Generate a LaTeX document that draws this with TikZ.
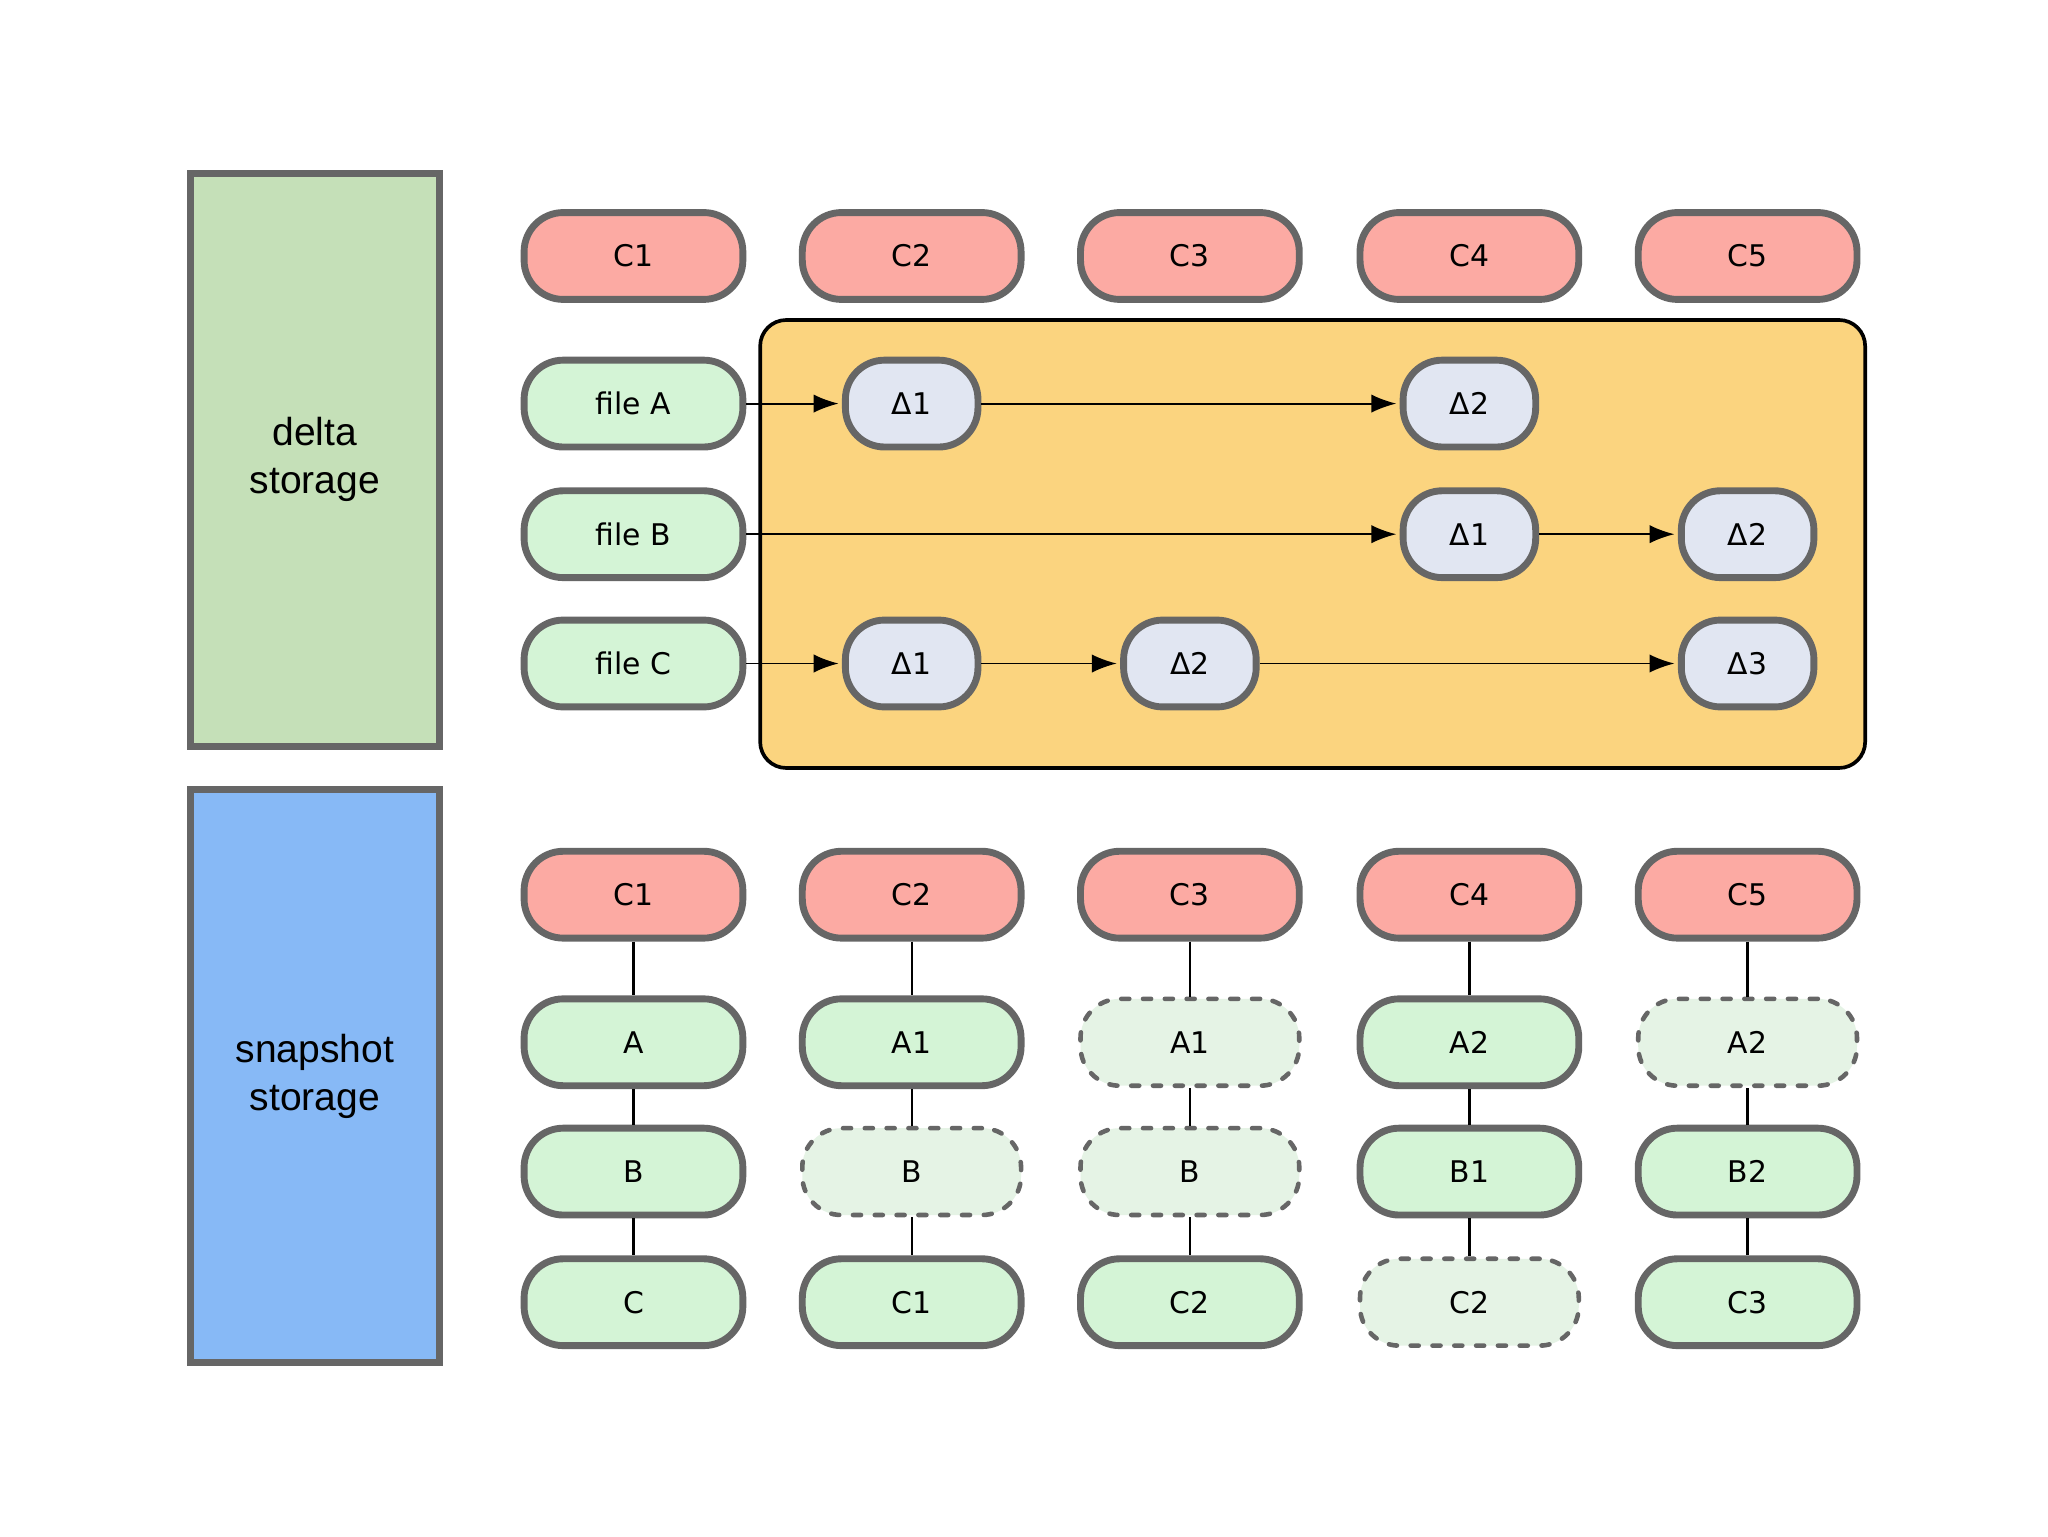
\documentclass[tikz,border=0pt]{standalone}
\usepackage{fontspec}
\setmainfont{DejaVu Sans}
\newfontfamily\storefont{Liberation Sans}
\usetikzlibrary{positioning}
\usetikzlibrary{arrows.meta}
\definecolor{bordergray}{HTML}{666666}
\definecolor{commitred}{HTML}{FCAAA3}
\definecolor{filegreen}{HTML}{D4F4D6}
\definecolor{ghostgreen}{HTML}{E5F3E5}
\definecolor{deltablue}{HTML}{E1E6F2}
\definecolor{boxorange}{HTML}{FBD47F}
\definecolor{deltagreen}{HTML}{C5E0B8}
\definecolor{snapblue}{HTML}{87B9F6}
\tikzset{
commit/.style={rectangle,rounded corners=0.6cm,draw=bordergray,line width=3pt,fill=commitred,minimum width=3.35cm,minimum height=1.33cm,inner sep=0pt,font=\fontsize{13}{15}\selectfont},
filenode/.style={commit,fill=filegreen},
deltanode/.style={commit,fill=deltablue,minimum width=2.03cm},
ghost/.style={commit,fill=ghostgreen,line width=2pt,dash pattern=on 3.5pt off 6pt,line cap=round},
store/.style={rectangle,draw=bordergray,line width=3pt,minimum width=3.81cm,minimum height=8.77cm,align=center,font=\storefont\fontsize{17}{21}\selectfont},
flow/.style={-{Latex[length=0.38cm,width=0.28cm]},line width=0.8pt,shorten >=1.5pt},
link/.style={line width=1pt}
}
\begin{document}
\begin{tikzpicture}
\useasboundingbox[fill=white] (0,0) rectangle (31.36,23.52);

% storage kinds
\node[store,fill=deltagreen] (delta) at (4.82,16.48) {delta\\storage};
\node[store,fill=snapblue] (snap) at (4.82,7.04) {snapshot\\storage};

% delta storage
\draw[fill=boxorange,line width=1.6pt,rounded corners=0.4cm] (11.64,11.76) rectangle (28.56,18.62);
\node[commit] (dC1) at (9.70,19.60) {C1};
\node[commit] (dC2) at (13.96,19.60) {C2};
\node[commit] (dC3) at (18.22,19.60) {C3};
\node[commit] (dC4) at (22.50,19.60) {C4};
\node[commit] (dC5) at (26.76,19.60) {C5};

\node[filenode] (fileA) at (9.70,17.34) {file A};
\node[filenode] (fileB) at (9.70,15.34) {file B};
\node[filenode] (fileC) at (9.70,13.36) {file C};

\node[deltanode] (dA1) at (13.96,17.34) {Δ1};
\node[deltanode] (dA2) at (22.50,17.34) {Δ2};
\node[deltanode] (dB1) at (22.50,15.34) {Δ1};
\node[deltanode] (dB2) at (26.76,15.34) {Δ2};
\node[deltanode] (dCc1) at (13.96,13.36) {Δ1};
\node[deltanode] (dCc2) at (18.22,13.36) {Δ2};
\node[deltanode] (dCc3) at (26.76,13.36) {Δ3};

\draw[flow] (fileA) -- (dA1);
\draw[flow] (dA1) -- (dA2);
\draw[flow] (fileB) -- (dB1);
\draw[flow] (dB1) -- (dB2);
\draw[flow] (fileC) -- (dCc1);
\draw[flow] (dCc1) -- (dCc2);
\draw[flow] (dCc2) -- (dCc3);

% snapshot storage
\node[commit] (sC1) at (9.70,9.82) {C1};
\node[commit] (sC2) at (13.96,9.82) {C2};
\node[commit] (sC3) at (18.22,9.82) {C3};
\node[commit] (sC4) at (22.50,9.82) {C4};
\node[commit] (sC5) at (26.76,9.82) {C5};

\node[filenode] (s1a) at (9.70,7.56) {A};
\node[filenode] (s1b) at (9.70,5.58) {B};
\node[filenode] (s1c) at (9.70,3.58) {C};
\node[filenode] (s2a) at (13.96,7.56) {A1};
\node[ghost] (s2b) at (13.96,5.58) {B};
\node[filenode] (s2c) at (13.96,3.58) {C1};
\node[ghost] (s3a) at (18.22,7.56) {A1};
\node[ghost] (s3b) at (18.22,5.58) {B};
\node[filenode] (s3c) at (18.22,3.58) {C2};
\node[filenode] (s4a) at (22.50,7.56) {A2};
\node[filenode] (s4b) at (22.50,5.58) {B1};
\node[ghost] (s4c) at (22.50,3.58) {C2};
\node[ghost] (s5a) at (26.76,7.56) {A2};
\node[filenode] (s5b) at (26.76,5.58) {B2};
\node[filenode] (s5c) at (26.76,3.58) {C3};

\draw[link] (sC1) -- (s1a) (s1a) -- (s1b) (s1b) -- (s1c);
\draw[link] (sC2) -- (s2a) (s2a) -- (s2b) (s2b) -- (s2c);
\draw[link] (sC3) -- (s3a) (s3a) -- (s3b) (s3b) -- (s3c);
\draw[link] (sC4) -- (s4a) (s4a) -- (s4b) (s4b) -- (s4c);
\draw[link] (sC5) -- (s5a) (s5a) -- (s5b) (s5b) -- (s5c);

\end{tikzpicture}
\end{document}
